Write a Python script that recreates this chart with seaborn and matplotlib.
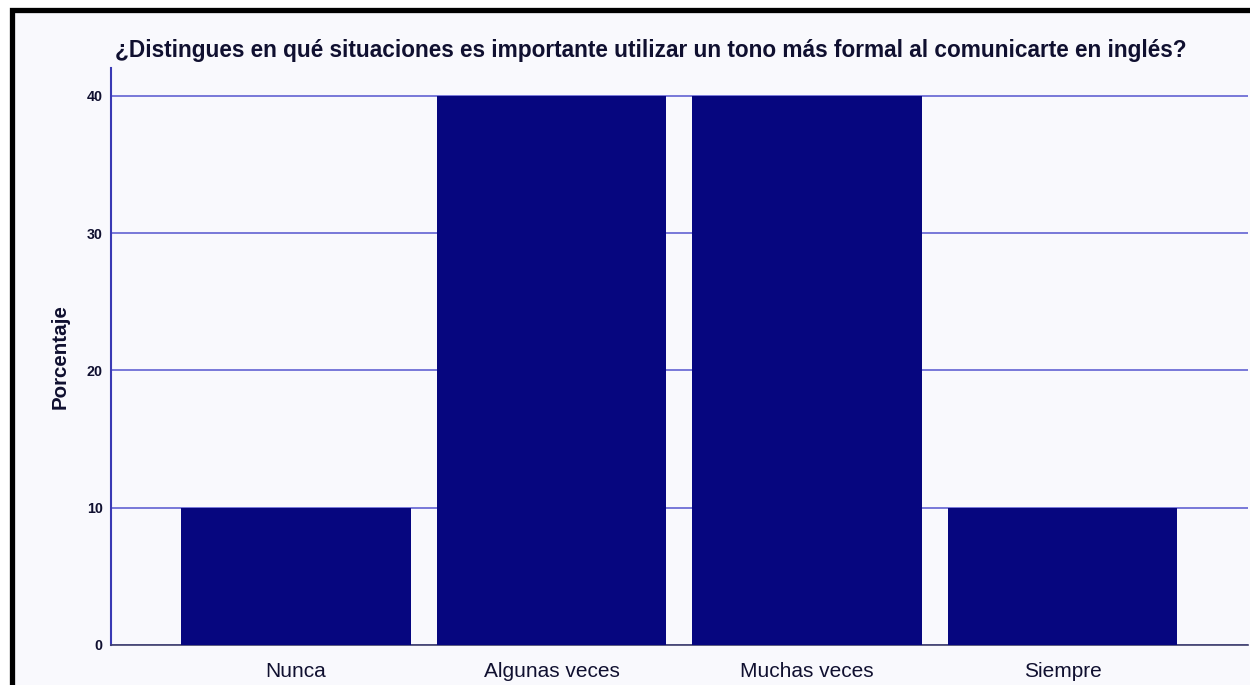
import matplotlib
matplotlib.use("Agg")
import matplotlib.pyplot as plt
import seaborn as sns
import pandas as pd
from matplotlib.patches import Rectangle

categories = ["Nunca", "Algunas veces", "Muchas veces", "Siempre"]
porcentajes = [10, 40, 40, 10]
yticks = [0, 10, 20, 30, 40]
title = "¿Distingues en qué situaciones es importante utilizar un tono más formal al comunicarte en inglés?"

df = pd.DataFrame({"categoria": categories, "porcentaje": porcentajes})

sns.set_theme(style="white")
plt.rcParams["font.family"] = ["Liberation Sans", "DejaVu Sans"]

W, H = 1250, 685
fig = plt.figure(figsize=(W / 100, H / 100), dpi=100)
fig.patch.set_facecolor("white")

# inner panel background and black frame (top/left visible)
fig.patches.append(Rectangle((11.5 / W, -0.5), 1.2, 1.5 - 10 / H, transform=fig.transFigure,
                             facecolor="#F9F9FD", edgecolor="black", linewidth=3.8, zorder=-10))

ax = fig.add_axes([111 / W, 1 - 645 / H, (1248 - 111) / W, (645 - 68) / H])
ax.set_facecolor("#F9F9FD")

sns.barplot(data=df, x="categoria", y="porcentaje", color="#06067F", saturation=1,
            width=0.9, ax=ax, zorder=3, edgecolor="none")

ax.set_ylim(0, 42.04)
ax.set_xlim(-0.724, 3.726)
ax.set_yticks(yticks)
ax.set_yticklabels([str(t) for t in yticks], fontsize=10.3, fontweight="bold", color="#101030")
ax.yaxis.grid(True, color="#6E6ED6", linewidth=1.3, zorder=1)
ax.set_axisbelow(True)
ax.tick_params(axis="y", length=0, pad=6)
ax.tick_params(axis="x", length=0, pad=12, labelsize=15, labelcolor="#101030")

for s in ["top", "right"]:
    ax.spines[s].set_visible(False)
ax.spines["left"].set_color("#3A3AB4")
ax.spines["left"].set_linewidth(1.5)
ax.spines["bottom"].set_color("#40406A")
ax.spines["bottom"].set_linewidth(1.2)

ax.set_xlabel("")
ax.set_ylabel("Porcentaje", fontsize=14.8, fontweight="bold", color="#101030", labelpad=12)

fig.text(115 / W, 1 - 50 / H, title, fontsize=16.3, fontweight="bold", color="#101030",
         ha="left", va="center")

fig.savefig("out.png", dpi=100, facecolor=fig.get_facecolor())
